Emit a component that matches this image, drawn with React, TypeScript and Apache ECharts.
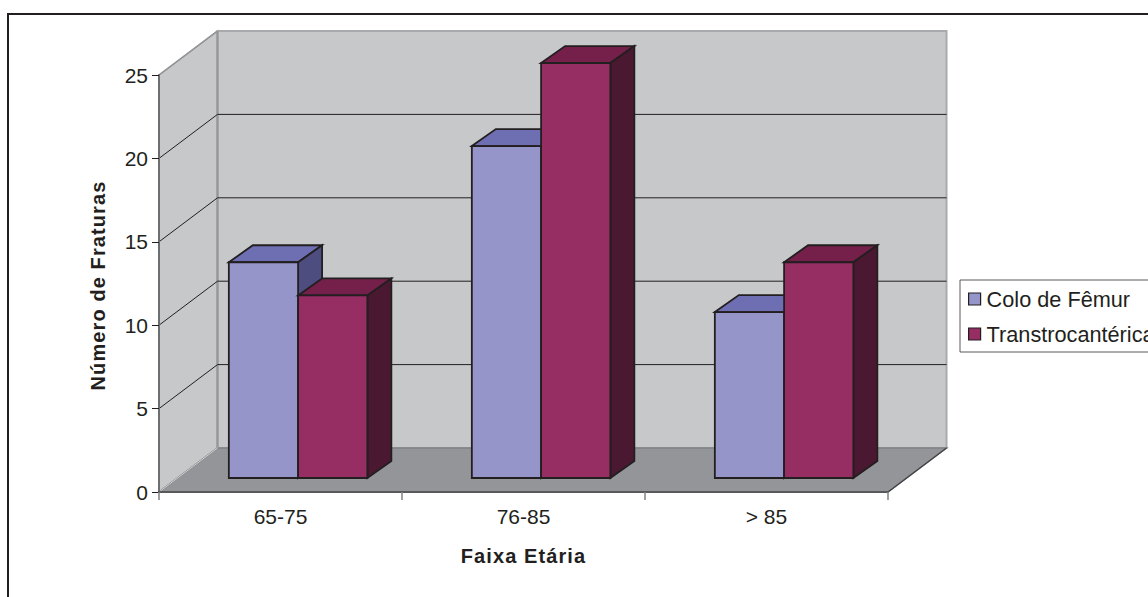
import React, { useEffect, useRef } from "react";
import * as echarts from "echarts";

// Fracture counts by age band
const categories = ["65-75", "76-85", "> 85"];
const coloDeFemur = [13, 20, 10];
const transtrocanterica = [11, 25, 13];
const gridTicks = [5, 10, 15, 20, 25];

// Oblique projection of the 3D box
const DEPTH_X = 58.5;
const DEPTH_Y = 44;
const BAR_SHIFT_X = 17.6;
const BAR_SHIFT_Y = 14;
const BAR_DEPTH_X = 24;
const BAR_DEPTH_Y = 17;
const BAR_RATIO = 0.285;
const BAR_HEIGHT_SCALE = 0.995;

const INK = "#231f20";
const FONT = "'Liberation Sans', Arial, sans-serif";

function poly(points: number[][], fill: string, stroke = INK, lineWidth = 1.8) {
  return {
    type: "polygon",
    shape: { points },
    style: { fill, stroke, lineWidth, lineJoin: "miter" },
  };
}

function line(a: number[], b: number[], stroke: string, lineWidth = 1) {
  return {
    type: "line",
    shape: { x1: a[0], y1: a[1], x2: b[0], y2: b[1] },
    style: { stroke, lineWidth },
  };
}

// Side walls and floor, spanned from the axis corners
function renderWalls(_: any, api: any) {
  const n = categories.length;
  const o = api.coord([0, 0]);
  const band = api.size([1, 0])[0];
  const x0 = o[0] - band / 2;
  const x1 = x0 + band * n;
  const y0 = o[1];
  const yTop = api.coord([0, 25])[1];
  const back = (x: number, y: number) => [x + DEPTH_X, y - DEPTH_Y];
  return {
    type: "group",
    children: [
      poly([[x0, y0], back(x0, y0), back(x0, yTop), [x0, yTop]], "#c7c8ca", "#939598", 1.5),
      poly([back(x0, yTop), back(x1, yTop), back(x1, y0), back(x0, y0)], "#c7c8ca", "#a7a9ac", 2),
      poly([[x0, y0], [x1, y0], back(x1, y0), back(x0, y0)], "#939598", "#808285", 1.5),
      line(back(x0, yTop), back(x0, y0), "#939598", 2),
      line([x1, y0], back(x1, y0), "#414042", 1.2),
      line([x0, y0], back(x0, y0), "#d1d3d4", 1),
    ],
  };
}

// One gridline running along the left wall and across the back wall
function renderGridline(_: any, api: any) {
  const v = api.value(0);
  const o = api.coord([0, v]);
  const band = api.size([1, 0])[0];
  const x0 = o[0] - band / 2;
  const x1 = x0 + band * categories.length;
  const y = o[1];
  const children = [line([x0, y], [x0 + DEPTH_X, y - DEPTH_Y], v === 25 ? "#939598" : INK, v === 25 ? 1.5 : 1)];
  if (v !== 25) {
    children.push(line([x0 + DEPTH_X, y - DEPTH_Y], [x1 + DEPTH_X, y - DEPTH_Y], INK, 1));
  }
  return { type: "group", children };
}

// Box-shaped bar; side = -1 sits left of the band's centre, side = 1 right of it
function makeBar(side: number, front: string, top: string, flank: string) {
  return (_: any, api: any) => {
    const i = api.value(0);
    const base = api.coord([i, 0]);
    const head = api.coord([i, api.value(1)]);
    const w = api.size([1, 0])[0] * BAR_RATIO;
    const mid = base[0] + BAR_SHIFT_X;
    const xa = side < 0 ? mid - w : mid;
    const xb = xa + w;
    const yb = base[1] - BAR_SHIFT_Y;
    const yt = yb - (base[1] - head[1]) * BAR_HEIGHT_SCALE;
    const dx = BAR_DEPTH_X;
    const dy = BAR_DEPTH_Y;
    return {
      type: "group",
      children: [
        poly([[xa, yt], [xa + dx, yt - dy], [xb + dx, yt - dy], [xb, yt]], top),
        poly([[xb, yt], [xb + dx, yt - dy], [xb + dx, yb - dy], [xb, yb]], flank),
        poly([[xa, yt], [xb, yt], [xb, yb], [xa, yb]], front),
      ],
    };
  };
}

export default function App() {
  const ref = useRef<HTMLDivElement>(null);

  useEffect(() => {
    const chart = echarts.init(ref.current!, null, { renderer: "svg" });
    chart.setOption({
      animation: false,
      backgroundColor: "#ffffff",
      textStyle: { fontFamily: FONT, color: INK },
      grid: { left: 159, right: 260, top: 75, bottom: 105 },
      graphic: [
        {
          type: "rect",
          shape: { x: 8, y: 14, width: 1300, height: 800 },
          style: { fill: "none", stroke: INK, lineWidth: 2 },
          z: -1,
        },
      ],
      legend: {
        left: 960,
        top: 280,
        orient: "vertical",
        padding: [7, 12, 6, 8],
        itemGap: 11,
        itemWidth: 12,
        itemHeight: 12,
        borderColor: "#58595b",
        borderWidth: 1,
        backgroundColor: "#ffffff",
        icon: "rect",
        textStyle: { fontFamily: FONT, fontSize: 21.7, lineHeight: 24, color: INK, padding: [0, 0, 0, 1] },
        data: [
          { name: "Colo de Fêmur", itemStyle: { color: "#9595c9", borderColor: INK, borderWidth: 1.2 } },
          { name: "Transtrocantérica", itemStyle: { color: "#962d63", borderColor: INK, borderWidth: 1.2 } },
        ],
      },
      xAxis: {
        type: "category",
        data: categories,
        z: 5,
        name: "Faixa Etária",
        nameLocation: "middle",
        nameGap: 54,
        nameTextStyle: { fontFamily: FONT, fontSize: 20, fontWeight: "bold", color: INK },
        axisLine: { lineStyle: { color: "#58595b", width: 2 } },
        axisTick: { show: true, alignWithLabel: false, length: 8, lineStyle: { color: "#808285", width: 1.5 } },
        axisLabel: { fontFamily: FONT, fontSize: 21, color: INK, margin: 14 },
        splitLine: { show: false },
      },
      yAxis: {
        type: "value",
        min: 0,
        max: 25,
        interval: 5,
        z: 5,
        name: "Número de Fraturas",
        nameLocation: "middle",
        nameRotate: 90,
        nameGap: 51,
        nameTextStyle: { fontFamily: FONT, fontSize: 20, fontWeight: "bold", color: INK, padding: [0, 4, 0, 0] },
        axisLine: { show: true, lineStyle: { color: "#6d6e71", width: 2 } },
        axisTick: { show: true, length: 7, lineStyle: { color: INK, width: 1 } },
        axisLabel: { fontFamily: FONT, fontSize: 21, color: INK, margin: 11 },
        splitLine: { show: false },
      },
      series: [
        {
          type: "custom",
          name: "walls",
          silent: true,
          renderItem: renderWalls,
          data: [[0]],
          encode: { x: 0 },
          z: 1,
        },
        {
          type: "custom",
          name: "gridlines",
          silent: true,
          renderItem: renderGridline,
          data: gridTicks.map((t) => [t]),
          encode: { y: 0 },
          z: 2,
        },
        {
          type: "custom",
          name: "Colo de Fêmur",
          renderItem: makeBar(-1, "#9595c9", "#6e6fb3", "#4d4d80"),
          data: coloDeFemur.map((v, i) => [i, v]),
          encode: { x: 0, y: 1 },
          itemStyle: { color: "#9595c9" },
          z: 3,
        },
        {
          type: "custom",
          name: "Transtrocantérica",
          renderItem: makeBar(1, "#962d63", "#74204a", "#4a1830"),
          data: transtrocanterica.map((v, i) => [i, v]),
          encode: { x: 0, y: 1 },
          itemStyle: { color: "#962d63" },
          z: 3,
        },
      ],
    });
    return () => chart.dispose();
  }, []);

  return (
    <>
      <style>{`html,body{margin:0;padding:0;overflow:hidden;background:#fff}
text[style*="bold"]{letter-spacing:1.1px}`}</style>
      <div ref={ref} style={{ width: 1148, height: 597 }} />
    </>
  );
}
